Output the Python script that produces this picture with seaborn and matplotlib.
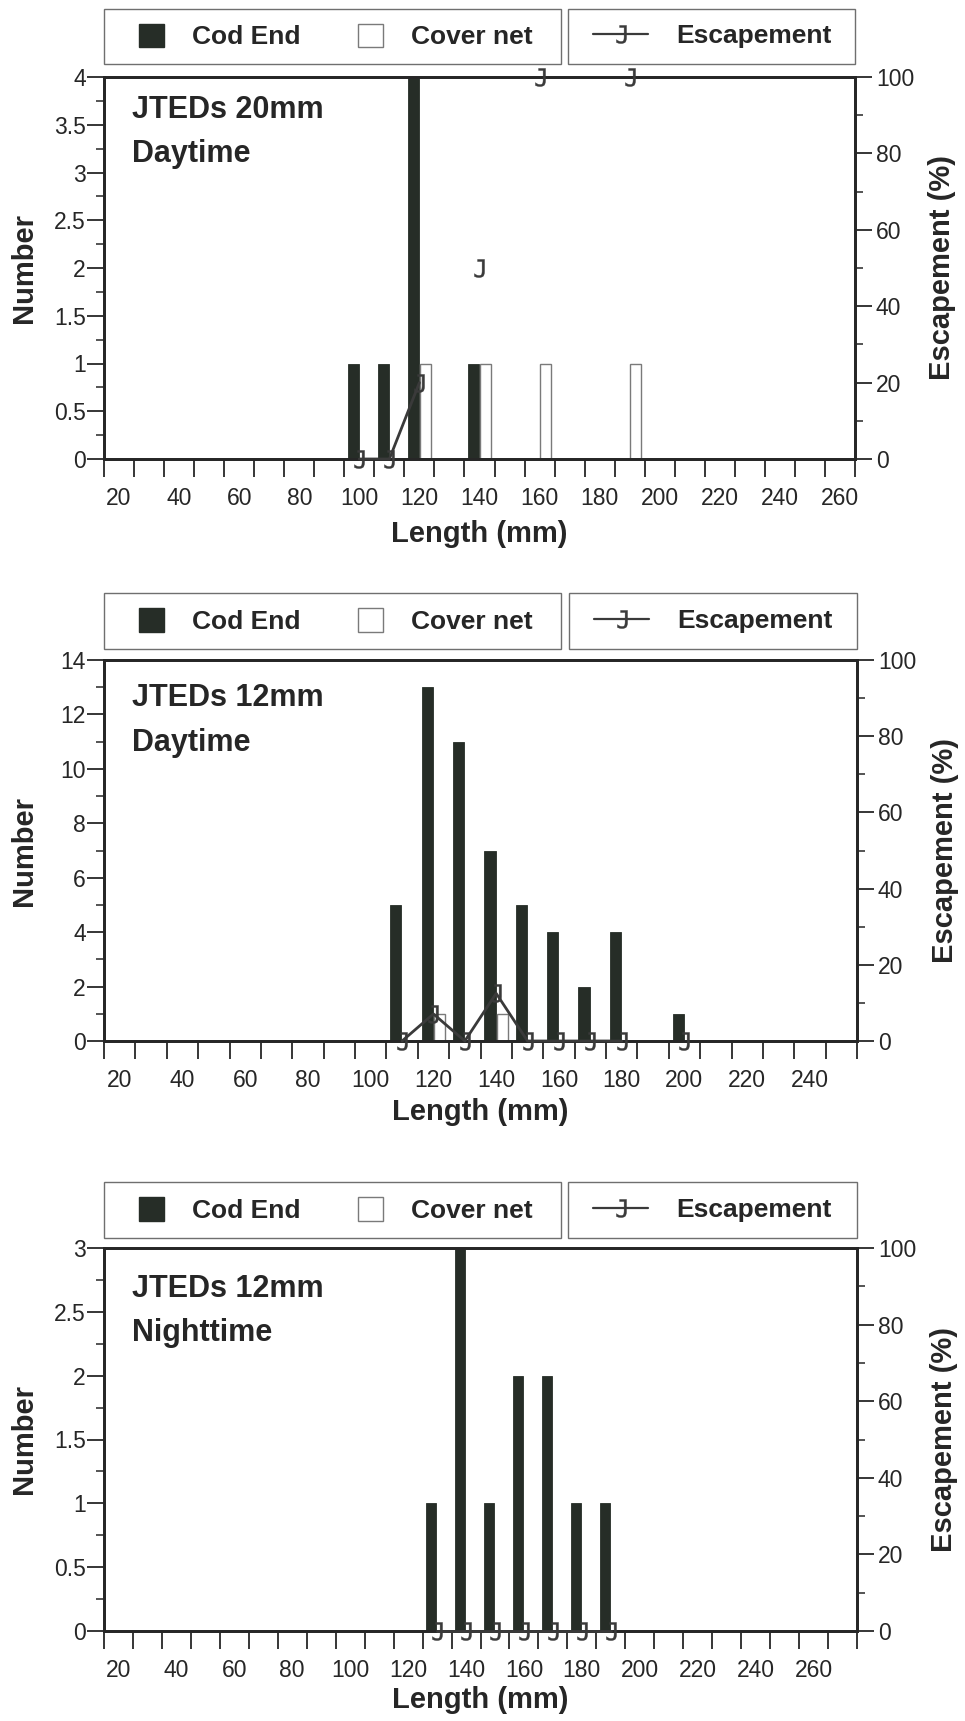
import numpy as np
import pandas as pd
import matplotlib
matplotlib.use("Agg")
import matplotlib.pyplot as plt
from matplotlib import font_manager
from matplotlib.patches import Patch, Rectangle
from matplotlib.lines import Line2D
from matplotlib.ticker import FixedLocator, MultipleLocator, FuncFormatter
import seaborn as sns

# ---------------- data ----------------
# length classes (mm) on each x axis
classes_20d = list(range(20, 261, 10))
classes_12d = list(range(20, 251, 10))
classes_12n = list(range(20, 271, 10))

# JTEDs 20mm, daytime
cod_len_20d = [100, 110, 120, 140]
cod_num_20d = [1, 1, 4, 1]
cov_len_20d = [120, 140, 160, 190]
cov_num_20d = [1, 1, 1, 1]
esc_len_20d = [100, 110, 120, 140, 160, 190]
esc_pct_20d = [0, 0, 20, 50, 100, 100]

# JTEDs 12mm, daytime
cod_len_12d = [110, 120, 130, 140, 150, 160, 170, 180, 200]
cod_num_12d = [5, 13, 11, 7, 5, 4, 2, 4, 1]
cov_len_12d = [120, 140]
cov_num_12d = [1, 1]
esc_len_12d = [110, 120, 130, 140, 150, 160, 170, 180, 200]
esc_pct_12d = [0, 7.1, 0, 12.5, 0, 0, 0, 0, 0]

# JTEDs 12mm, nighttime
cod_len_12n = [130, 140, 150, 160, 170, 180, 190]
cod_num_12n = [1, 3, 1, 2, 2, 1, 1]
cov_len_12n = []
cov_num_12n = []
esc_len_12n = [130, 140, 150, 160, 170, 180, 190]
esc_pct_12n = [0, 0, 0, 0, 0, 0, 0]

net_names = ["Cod End", "Cover net"]

# ---------------- style ----------------
sns.set_theme(style="white")
BOLD_FAMILY = ["Liberation Sans", "DejaVu Sans"]
plt.rcParams["font.family"] = BOLD_FAMILY


def has_font(name):
    try:
        font_manager.findfont(font_manager.FontProperties(family=name),
                              fallback_to_default=False)
        return True
    except Exception:
        return False


NARROW = has_font("Liberation Sans Narrow")
TICK_FAMILY = "Liberation Sans Narrow" if NARROW else "Liberation Sans"
TICK_SIZE = 19 if NARROW else 16.5

DARK = "#262d27"
INK = "#262626"
LINE = "#3a3a3a"
EDGE_GRAY = "#7a7a7a"
J_MARKER = r"$\mathtt{J}$"

W, H = 965, 1721
fig = plt.figure(figsize=(W / 100, H / 100), dpi=100)
fig.patch.set_facecolor("white")


def fx(px):
    return px / W


def fy(py):
    return 1 - py / H


def counts_frame(classes, cod_len, cod_num, cov_len, cov_num):
    cod = pd.Series(0.0, index=classes)
    cod.loc[cod_len] = cod_num
    cov = pd.Series(0.0, index=classes)
    if cov_len:
        cov.loc[cov_len] = cov_num
    n = len(classes)
    return pd.DataFrame({
        "Length": [str(c) for c in classes] * 2,
        "Net": [net_names[0]] * n + [net_names[1]] * n,
        "Number": list(cod.values) + list(cov.values),
    })


def draw_panel(p):
    classes = p["classes"]
    n = len(classes)
    left, right, top, bottom = p["box"]
    ax = fig.add_axes([fx(left), fy(bottom), (right - left) / W, (bottom - top) / H])
    ax.set_facecolor("white")

    df = counts_frame(classes, *p["cod"], *p["cov"])
    order = [str(c) for c in classes]
    sns.barplot(data=df, x="Length", y="Number", hue="Net", order=order,
                hue_order=net_names, palette={net_names[0]: DARK, net_names[1]: "white"},
                saturation=1, width=0.8, gap=0.1, legend=False, ax=ax,
                err_kws={"linewidth": 0})
    for rect in ax.containers[0]:
        rect.set_edgecolor(DARK)
        rect.set_linewidth(0.6)
    for rect in ax.containers[1]:
        rect.set_edgecolor(EDGE_GRAY)
        rect.set_linewidth(1.0)

    ax.set_ylim(0, p["ymax"])
    ax.yaxis.set_major_locator(MultipleLocator(p["ystep"]))
    ax.yaxis.set_minor_locator(MultipleLocator(p["yminor"]))
    ax.yaxis.set_major_formatter(FuncFormatter(lambda v, _: f"{v:g}"))

    # escapement on the right-hand axis, broken where a length class is empty
    ax2 = ax.twinx()
    seg = np.cumsum(np.r_[0, np.diff(p["esc"][0]) > 10])
    edf = pd.DataFrame({"Length": [str(v) for v in p["esc"][0]],
                        "Escapement": p["esc"][1], "seg": seg})
    sns.lineplot(data=edf, x="Length", y="Escapement", units="seg", estimator=None,
                 color=LINE, linewidth=2.0, marker=J_MARKER, markersize=13,
                 markeredgecolor=LINE, markerfacecolor=LINE, markeredgewidth=0.3,
                 clip_on=False, legend=False, ax=ax2, zorder=5)
    ax2.set_ylim(0, 100)
    ax2.yaxis.set_major_locator(MultipleLocator(20))
    ax2.yaxis.set_minor_locator(MultipleLocator(10))
    ax2.yaxis.set_major_formatter(FuncFormatter(lambda v, _: f"{v:g}"))

    # x axis: ticks on class boundaries, labels every 20 mm
    ax.set_xlim(-0.5, n - 0.5)
    lab_pos = [i for i, c in enumerate(classes) if c % 20 == 0]
    ax.set_xticks(lab_pos, labels=[str(classes[i]) for i in lab_pos])
    ax.xaxis.set_minor_locator(FixedLocator(np.arange(n + 1) - 0.5))
    ax.tick_params(axis="x", which="major", length=0, pad=20,
                   labelsize=TICK_SIZE, labelcolor=INK, labelfontfamily=TICK_FAMILY)
    ax.tick_params(axis="x", which="minor", bottom=True, direction="out",
                   length=13, width=1.3, color=INK)
    ax.tick_params(axis="y", which="major", left=True, direction="out", length=12,
                   width=1.3, color=INK, pad=1, labelsize=TICK_SIZE, labelcolor=INK,
                   labelfontfamily=TICK_FAMILY)
    ax.tick_params(axis="y", which="minor", left=True, direction="out", length=6,
                   width=1.1, color=INK)
    ax2.tick_params(axis="y", which="major", right=True, direction="out", length=12,
                    width=1.3, color=INK, pad=3, labelsize=TICK_SIZE, labelcolor=INK,
                    labelfontfamily=TICK_FAMILY)
    ax2.tick_params(axis="y", which="minor", right=True, direction="out", length=6,
                    width=1.1, color=INK)

    for a in (ax, ax2):
        for s in a.spines.values():
            s.set_visible(True)
            s.set_color(INK)
            s.set_linewidth(2.0)
    ax.grid(False)
    ax2.grid(False)

    hpx = bottom - top
    wpx = right - left
    ax.set_xlabel("Length (mm)", fontsize=21, fontweight="bold", color=INK)
    ax.xaxis.set_label_coords(0.5, -(p["xlab_y"] - bottom) / hpx)
    ax.xaxis.label.set_va("center")
    ax.set_ylabel("Number", fontsize=21, fontweight="bold", color=INK)
    ax.yaxis.set_label_coords((24 - left) / wpx, 0.5)
    ax.yaxis.label.set_va("center")
    ax2.set_ylabel("Escapement (%)", fontsize=21, fontweight="bold", color=INK)
    ax2.yaxis.set_label_coords((p["ylab2_x"] - left) / wpx, 0.5)
    ax2.yaxis.label.set_va("center")

    # panel caption
    fig.text(fx(132), fy(p["title_y"][0]), p["title"][0], fontsize=22,
             fontweight="bold", color=INK, va="center")
    fig.text(fx(132), fy(p["title_y"][1]), p["title"][1], fontsize=22,
             fontweight="bold", color=INK, va="center")

    # legend boxes above the plot
    ly0, ly1 = p["legend_y"]
    lc = (ly0 + ly1) / 2
    fig.add_artist(Rectangle((fx(104), fy(ly1)), (561 - 104) / W, (ly1 - ly0) / H,
                             transform=fig.transFigure, fill=False,
                             edgecolor="#6f6f6f", linewidth=1.0))
    rx0, rx1 = p["legend_right"]
    fig.add_artist(Rectangle((fx(rx0), fy(ly1)), (rx1 - rx0) / W, (ly1 - ly0) / H,
                             transform=fig.transFigure, fill=False,
                             edgecolor="#6f6f6f", linewidth=1.0))
    prop = {"family": BOLD_FAMILY, "weight": "bold", "size": 19}
    bars_handles = [Patch(facecolor=DARK, edgecolor=DARK),
                    Patch(facecolor="white", edgecolor=EDGE_GRAY, linewidth=1.0)]
    leg1 = ax.legend(bars_handles, net_names, ncol=2, loc="center left",
                     bbox_to_anchor=(fx(139), fy(lc)), bbox_transform=fig.transFigure,
                     frameon=False, borderpad=0, borderaxespad=0, handlelength=0.95,
                     handleheight=1.0, handletextpad=1.05, columnspacing=2.2, prop=prop,
                     labelcolor=INK)
    ax.add_artist(leg1)
    esc_handle = Line2D([], [], color=LINE, linewidth=1.6, marker=J_MARKER,
                        markersize=13, markeredgecolor=LINE, markerfacecolor=LINE,
                        markeredgewidth=0.3)
    ax.legend([esc_handle], ["Escapement"], loc="center left",
              bbox_to_anchor=(fx(rx0 + 25), fy(lc)), bbox_transform=fig.transFigure,
              frameon=False, borderpad=0, borderaxespad=0, handlelength=2.1,
              handletextpad=1.05, prop=prop, labelcolor=INK)


panels = [
    dict(title=("JTEDs 20mm", "Daytime"), title_y=(110, 154), classes=classes_20d,
         cod=(cod_len_20d, cod_num_20d), cov=(cov_len_20d, cov_num_20d),
         esc=(esc_len_20d, esc_pct_20d), ymax=4, ystep=0.5, yminor=0.25,
         box=(104, 855, 77, 459), legend_y=(9, 64), legend_right=(568, 855),
         xlab_y=534, ylab2_x=942),
    dict(title=("JTEDs 12mm", "Daytime"), title_y=(698, 743), classes=classes_12d,
         cod=(cod_len_12d, cod_num_12d), cov=(cov_len_12d, cov_num_12d),
         esc=(esc_len_12d, esc_pct_12d), ymax=14, ystep=2, yminor=1,
         box=(104, 857, 660, 1041), legend_y=(593, 649), legend_right=(569, 857),
         xlab_y=1112, ylab2_x=945),
    dict(title=("JTEDs 12mm", "Nighttime"), title_y=(1289, 1333), classes=classes_12n,
         cod=(cod_len_12n, cod_num_12n), cov=(cov_len_12n, cov_num_12n),
         esc=(esc_len_12n, esc_pct_12n), ymax=3, ystep=0.5, yminor=0.25,
         box=(104, 857, 1248, 1631), legend_y=(1182, 1238), legend_right=(568, 857),
         xlab_y=1700, ylab2_x=944),
]

for p in panels:
    draw_panel(p)

fig.savefig("out.png", dpi=100, facecolor="white")
